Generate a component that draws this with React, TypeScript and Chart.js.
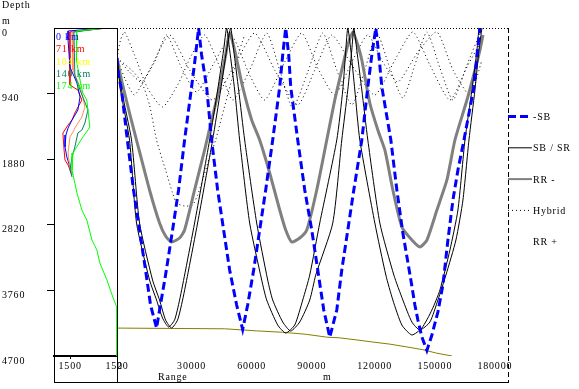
import React, { useEffect, useRef } from 'react';
import { Chart, registerables } from 'chart.js';

Chart.register(...registerables);

const W = 579;
const H = 389;
const FONT = '"Liberation Serif", "Times New Roman", serif';

// ---------- axes ----------
const depthTicks = [0, 940, 1880, 2820, 3760, 4700];
const speedTicks = [1500, 1520];
const rangeTicks = [0, 30000, 60000, 90000, 120000, 150000, 180000];

// ---------- sound speed profiles (speed m/s, depth m) ----------
const profileNames = ['0 km', '71 km', '104 km', '140 km', '174 km'];
const profileLabelColors = ['#0000ff', '#ff0000', '#ffff00', '#007f60', '#00ff00'];
const profileLineColors = ['#0000ff', '#ff0000', '#ff8c5a', '#007f60', '#00ff00'];

const p0Speed = [1514.8, 1499.1, 1499.1, 1499.9, 1502.9, 1504.2, 1503.3, 1500.8, 1499.1, 1498.2, 1497.8, 1498.6, 1499.9, 1500.8];
const p0Depth = [0, 43, 172, 559, 788, 989, 1175, 1318, 1433, 1533, 1705, 1849, 1992, 2107];

const p71Speed = [1515.7, 1499.9, 1499.9, 1503.3, 1505.0, 1502.0, 1500.8, 1499.1, 1496.9, 1497.4, 1497.8, 1499.1, 1500.8];
const p71Depth = [0, 57, 817, 888, 1032, 1218, 1318, 1390, 1505, 1748, 1892, 1963, 2107];

const p104Speed = [1515.2, 1500.8, 1501.2, 1504.2, 1505.4, 1506.3, 1505.0, 1502.0, 1501.2, 1499.9, 1499.1, 1499.9, 1500.8];
const p104Depth = [0, 57, 602, 845, 989, 1132, 1275, 1433, 1490, 1562, 1791, 1992, 2107];

const p140Speed = [1515.2, 1501.6, 1502.0, 1504.2, 1507.6, 1506.3, 1505.0, 1503.3, 1502.0, 1500.8, 1499.9, 1500.8];
const p140Depth = [0, 57, 674, 888, 1175, 1361, 1462, 1505, 1705, 1849, 2035, 2135];

const p174Speed = [1515.7, 1502.9, 1502.9, 1502.5, 1504.2, 1505.4, 1507.1, 1507.6, 1508.4, 1507.6, 1505.4, 1503.3, 1501.2, 1500.8, 1502.9, 1505.0, 1507.1, 1509.3, 1511.4, 1512.7, 1515.7, 1518.2, 1520.0, 1520.0];
const p174Depth = [0, 43, 215, 459, 745, 931, 1032, 1175, 1419, 1462, 1562, 1677, 1791, 2035, 2364, 2608, 2751, 3038, 3181, 3368, 3611, 3855, 4012, 4700];

// ---------- rays (range m, depth m) ----------
const blueRange = [0, 750, 2250, 4750, 8250, 11250, 14250, 16750, 19750, 21250, 24250, 27750, 30750, 33750, 37250, 39250, 40750, 42250, 44750, 47250, 50250, 53250, 56250, 59750, 62750, 65250, 68250, 71250, 74250, 77750, 81250, 82750, 84250, 85750, 86750, 90250, 93750, 97250, 100250, 103250, 106250, 109750, 112250, 115250, 118250, 122250, 125250, 127250, 129250, 130750, 132250, 136750, 139750, 142750, 146750, 148750, 150250, 152250, 154750, 157250, 160250, 162750, 165250, 167750, 170250, 173250, 178250, 179750, 181250];
const blueDepth = [430, 674, 888, 1505, 2321, 2895, 3468, 3969, 4300, 4041, 3540, 2895, 2321, 1605, 845, 387, 0, 387, 845, 1605, 2321, 2895, 3468, 3969, 4320, 3969, 3468, 2895, 2321, 1605, 845, 387, 0, 387, 845, 1605, 2321, 2895, 3468, 4041, 4430, 4041, 3468, 2895, 2321, 1605, 845, 387, 0, 387, 845, 1605, 2321, 2938, 3611, 3969, 4184, 4428, 4620, 4399, 4070, 3683, 3038, 2465, 2035, 1605, 845, 387, 0];

const blackARange = [0, 1750, 6250, 9750, 16250, 19750, 22750, 25750, 28750, 31250, 34250, 38750, 46250, 50250, 53250, 54750, 56250, 58750, 61250, 66250, 72250, 74750, 80250, 84250, 88750, 92750, 96250, 101250, 109750, 112750, 114250, 115250, 116750, 118750, 121250, 128750, 134250, 137750, 142250, 147250, 152250, 157250, 161250, 166250, 170250, 173750, 177250, 179750, 180750];
const blackADepth = [430, 888, 1605, 2794, 3611, 3898, 4156, 4285, 4184, 3898, 3468, 2794, 1605, 888, 315, 0, 315, 888, 1605, 2794, 3611, 3898, 4256, 4371, 4256, 3898, 3540, 2794, 1605, 888, 315, 0, 315, 888, 1605, 2794, 3540, 3898, 4256, 4399, 4299, 4041, 3755, 3181, 2608, 1605, 888, 315, 0];

const blackBRange = [0, 2250, 7250, 11250, 17750, 21250, 24250, 27250, 30250, 32750, 35750, 40250, 47750, 51750, 54750, 56750, 58250, 60750, 63750, 69750, 75250, 77750, 82750, 86750, 91250, 96250, 99250, 107750, 112250, 115250, 117250, 118250, 119750, 122250, 125250, 131250, 138250, 142750, 147250, 151250, 156250, 160250, 164250, 169250, 172750, 175750, 178750, 180750, 182250];
const blackBDepth = [430, 888, 1605, 2794, 3611, 3898, 4184, 4299, 4184, 3898, 3468, 2794, 1605, 888, 315, 0, 315, 888, 1605, 2794, 3611, 3898, 4213, 4342, 4213, 3898, 3540, 2794, 1605, 888, 315, 0, 315, 888, 1605, 2794, 3540, 3898, 4213, 4328, 4213, 3898, 3540, 3038, 2465, 1605, 888, 315, 0];

const grayRange = [0, 2250, 6250, 9750, 16250, 21250, 24250, 27250, 31250, 33750, 38750, 43750, 47250, 51250, 54250, 56250, 58750, 62750, 67250, 71250, 76250, 81250, 84250, 87250, 91250, 94750, 99750, 104750, 108750, 112250, 115250, 117750, 120250, 122250, 126250, 130250, 133750, 137750, 142250, 147250, 151250, 154750, 159750, 164750, 168750, 174750, 178750, 181250, 182750];
const grayDepth = [430, 745, 1218, 1605, 2321, 2794, 2981, 3067, 3009, 2895, 2321, 1748, 1318, 845, 387, 72, 315, 845, 1318, 1605, 2078, 2608, 2895, 3067, 3009, 2895, 2321, 1605, 1032, 602, 244, 57, 244, 459, 1075, 1462, 1748, 2321, 2852, 3038, 3138, 3038, 2608, 2178, 1605, 1032, 602, 315, 100];

const hyb1Range = [0, 1750, 3750, 8750, 15250, 22750, 30250, 37250, 43750, 50250, 57750, 66250, 74750, 81250, 87750, 95250, 102750, 109750, 117250, 123750, 129750, 136250, 142750, 148750, 154750, 161250, 167750, 174750, 181250];
const hyb1Depth = [430, 172, 57, 387, 860, 1132, 817, 387, 100, 487, 1032, 602, 72, 602, 1146, 630, 72, 602, 1103, 602, 72, 573, 1003, 530, 57, 573, 1032, 530, 72];

const hyb2Range = [0, 6250, 12250, 18750, 24750, 32250, 39750, 48750, 57250, 66250, 73750, 83750, 92250, 100250, 108750, 117250, 125250, 132750, 140250, 150250, 159750, 167750, 176250, 182250];
const hyb2Depth = [430, 630, 774, 487, 100, 573, 917, 487, 115, 674, 1032, 487, 72, 573, 960, 487, 100, 487, 774, 344, 57, 602, 960, 459];

const hyb3Range = [0, 4250, 8750, 16250, 26250, 36250, 47750, 58750, 68750, 78750, 90250, 98750, 107250, 117250, 128750, 138750, 147750, 156250, 166250, 175250, 182250];
const hyb3Depth = [430, 745, 960, 602, 100, 602, 1032, 530, 72, 602, 1103, 602, 100, 530, 960, 459, 57, 530, 1032, 530, 172];

const hyb4Range = [0, 7250, 12250, 16250, 19750, 24250, 27750, 29750, 33750, 37750, 40250, 42750, 46250, 49250, 53250, 57250, 61250, 63750];
const hyb4Depth = [430, 602, 774, 1103, 1605, 2035, 2364, 2508, 2551, 2536, 2393, 2178, 1849, 1605, 1175, 745, 315, 100];

// ---------- bathymetry ----------
const bottomRange = [0, 53750, 69750, 82750, 94750, 104750, 111250, 119750, 127750, 136250, 144750, 152750, 159750, 167250];
const bottomDepth = [4300, 4310, 4340, 4360, 4390, 4430, 4440, 4470, 4500, 4530, 4570, 4610, 4660, 4700];

// ---------- legend ----------
const legendLabels = ['-SB', 'SB / SR', 'RR -', 'Hybrid', 'RR +'];

const zip = (xs: number[], ys: number[]) => xs.map((x, i) => ({ x, y: ys[i] }));
const plain = (v: any) => String(v);

export default function App() {
  const lRef = useRef<HTMLCanvasElement>(null);
  const mRef = useRef<HTMLCanvasElement>(null);

  useEffect(() => {
    document.body.style.margin = '0';
    const font = { family: FONT, size: 10 };
    const spacing = {
      id: 'spacing',
      beforeDraw: (c: any) => { c.ctx.letterSpacing = '0.8px'; },
    };

    const profSets = [
      [p174Speed, p174Depth, 4],
      [p140Speed, p140Depth, 3],
      [p104Speed, p104Depth, 2],
      [p0Speed, p0Depth, 0],
      [p71Speed, p71Depth, 1],
    ].map(([s, d, k]: any) => ({
      data: zip(s, d),
      borderColor: profileLineColors[k],
      borderWidth: 1,
      pointRadius: 0,
      tension: 0,
      fill: false,
    }));

    const profileLabelsPlugin = {
      id: 'profLabels',
      afterDatasetsDraw: (c: any) => {
        const ctx = c.ctx;
        ctx.save();
        ctx.font = `10px ${FONT}`;
        ctx.textBaseline = 'middle';
        ctx.textAlign = 'left';
        profileNames.forEach((n, i) => {
          ctx.fillStyle = profileLabelColors[i];
          ctx.fillText(n, 56, 37.5 + i * 12.2);
        });
        ctx.restore();
      },
    };

    const left = new Chart(lRef.current!, {
      type: 'line',
      data: { datasets: profSets as any },
      options: {
        responsive: false,
        animation: false,
        devicePixelRatio: 1,
        events: [],
        layout: { padding: { left: 2, top: 28, right: W - 117, bottom: H - 382 } },
        plugins: { legend: { display: false }, tooltip: { enabled: false } },
        scales: {
          x: {
            type: 'linear',
            position: 'bottom',
            min: 1493.1,
            max: 1520,
            afterBuildTicks: (s: any) => { s.ticks = speedTicks.map((v) => ({ value: v })); },
            afterFit: (s: any) => { s.height = 26; },
            grid: { display: true, drawOnChartArea: false, drawTicks: true, tickLength: 3, color: '#000' },
            border: { display: true, color: '#000', width: 2 },
            ticks: { color: '#000', font, padding: 1, maxRotation: 0, autoSkip: false, callback: plain },
          },
          y: {
            type: 'linear',
            position: 'left',
            reverse: true,
            min: 0,
            max: 4700,
            afterBuildTicks: (s: any) => { s.ticks = depthTicks.map((v) => ({ value: v })); },
            afterFit: (s: any) => { s.width = 52; },
            grid: {
              display: true,
              drawOnChartArea: false,
              drawTicks: true,
              tickLength: 7,
              color: (c: any) => (c.tick && (c.tick.value === 0 || c.tick.value === 4700) ? 'rgba(0,0,0,0)' : '#000'),
            },
            border: { display: true, color: '#000', width: 1 },
            ticks: { color: '#000', font, crossAlign: 'far', labelOffset: 5, padding: 0, autoSkip: false, callback: plain },
          },
        },
      } as any,
      plugins: [spacing, profileLabelsPlugin],
    });

    const ray = (r: number[], d: number[], color: string, width: number, dash: number[], tension: number) => ({
      data: zip(r, d),
      borderColor: color,
      borderWidth: width,
      borderDash: dash,
      pointRadius: 0,
      tension,
      fill: false,
    });

    const legendStyles: any[] = [
      { color: '#0000ff', width: 3, dash: [8, 4] },
      { color: '#000000', width: 1, dash: [] },
      { color: '#808080', width: 2, dash: [] },
      { color: '#000000', width: 1, dash: [1, 3] },
      null,
    ];

    const framePlugin = {
      id: 'frame',
      afterDraw: (c: any) => {
        const ctx = c.ctx;
        const a = c.chartArea;
        ctx.save();
        ctx.strokeStyle = '#000';
        ctx.lineWidth = 1;
        const seg = (x1: number, y1: number, x2: number, y2: number, dash: number[]) => {
          ctx.setLineDash(dash);
          ctx.beginPath();
          ctx.moveTo(x1, y1);
          ctx.lineTo(x2, y2);
          ctx.stroke();
        };
        seg(54.5, 28, 54.5, 383, []);
        seg(54, 28.5, a.left + 0.5, 28.5, []);
        seg(a.left + 0.5, 28, a.left + 0.5, 383, []);
        seg(54, 382.5, a.right + 1, 382.5, []);
        seg(a.left, 28.5, a.right, 28.5, [1, 2]);
        seg(a.right + 0.5, 28, a.right + 0.5, 383, [5, 3]);

        // legend
        legendLabels.forEach((lab, i) => {
          const y = 116.5 + i * 31.3;
          const st = legendStyles[i];
          if (st) {
            ctx.strokeStyle = st.color;
            ctx.lineWidth = st.width;
            seg(a.right, y, a.right + 24, y, st.dash);
          }
          ctx.fillStyle = '#000';
          ctx.font = `10px ${FONT}`;
          ctx.textBaseline = 'middle';
          ctx.textAlign = 'left';
          ctx.fillText(lab, a.right + 25, y + 1);
        });

        // axis titles
        ctx.fillStyle = '#000';
        ctx.font = `10px ${FONT}`;
        ctx.textBaseline = 'middle';
        ctx.textAlign = 'left';
        ctx.fillText('Depth', 2, 5.5);
        ctx.fillText('m', 2, 21.5);
        ctx.fillText('Range', 158, 377);
        ctx.fillText('m', 323, 377);
        ctx.restore();
      },
    };

    const main = new Chart(mRef.current!, {
      type: 'line',
      data: {
        datasets: [
          ray(blueRange, blueDepth, '#0000ff', 3, [8, 4], 0),
          ray(blackARange, blackADepth, '#000000', 1, [], 0.2),
          ray(blackBRange, blackBDepth, '#000000', 1, [], 0.2),
          ray(grayRange, grayDepth, '#808080', 3, [], 0.2),
          ray(hyb1Range, hyb1Depth, '#000000', 1, [1, 3], 0.2),
          ray(hyb2Range, hyb2Depth, '#000000', 1, [1, 3], 0.2),
          ray(hyb3Range, hyb3Depth, '#000000', 1, [1, 3], 0.2),
          ray(hyb4Range, hyb4Depth, '#000000', 1, [1, 3], 0.2),
          ray(bottomRange, bottomDepth, '#808000', 1, [], 0),
        ] as any,
      },
      options: {
        responsive: false,
        animation: false,
        devicePixelRatio: 1,
        events: [],
        layout: { padding: { left: 117, top: 28, right: W - 508, bottom: H - 382 } },
        plugins: { legend: { display: false }, tooltip: { enabled: false } },
        scales: {
          x: {
            type: 'linear',
            position: 'bottom',
            min: 0,
            max: 195250,
            afterBuildTicks: (s: any) => { s.ticks = rangeTicks.map((v) => ({ value: v })); },
            afterFit: (s: any) => { s.height = 26; },
            grid: { display: false, drawTicks: false },
            border: { display: false },
            ticks: { color: '#000', font, align: 'start', padding: 4, maxRotation: 0, autoSkip: false, callback: plain },
          },
          y: { type: 'linear', display: false, reverse: true, min: 0, max: 4700 },
        },
      } as any,
      plugins: [spacing, framePlugin],
    });

    return () => {
      left.destroy();
      main.destroy();
    };
  }, []);

  return (
    <div style={{ position: 'fixed', left: 0, top: 0, width: W, height: H, background: '#fff' }}>
      <canvas ref={lRef} width={W} height={H} style={{ position: 'absolute', left: 0, top: 0 }} />
      <canvas ref={mRef} width={W} height={H} style={{ position: 'absolute', left: 0, top: 0 }} />
    </div>
  );
}
